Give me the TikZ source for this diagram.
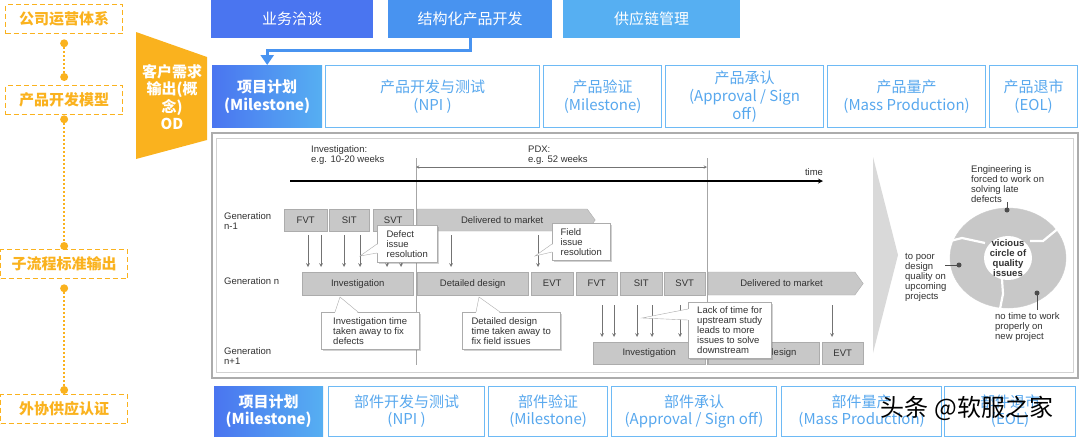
\documentclass[tikz,border=0pt]{standalone}
\usepackage{fontspec}
\newfontfamily\cjk{Noto Sans CJK SC}
\newfontfamily\arial{Liberation Sans}
\usetikzlibrary{arrows}
\usetikzlibrary{arrows.meta}
\usetikzlibrary{shadows}
\usetikzlibrary{shapes.symbols}

\definecolor{odorange}{RGB}{250,178,30}
\definecolor{bizblue}{RGB}{74,117,240}
\definecolor{devblue}{RGB}{72,147,240}
\definecolor{supblue}{RGB}{86,175,242}
\definecolor{stageline}{RGB}{110,186,245}
\definecolor{stagetext}{RGB}{88,168,238}
\definecolor{gfill}{RGB}{200,200,200}
\definecolor{gline}{RGB}{172,172,172}
\definecolor{gtext}{RGB}{50,50,50}
\definecolor{garrow}{RGB}{115,115,115}

\tikzset{
  modelbox/.style={draw=odorange, dash pattern=on 5pt off 3pt, line width=1.3pt,
    text=odorange, font=\cjk\bfseries\fontsize{15}{18}\selectfont,
    minimum width=117, minimum height=29, anchor=north west, inner sep=0pt},
  dotlink/.style={odorange, line width=2pt, dash pattern=on 2pt off 2pt},
  bizbar/.style={text=white, font=\cjk\fontsize{15}{18}\selectfont,
    minimum height=38, anchor=north west, inner sep=0pt},
  planbox/.style={left color=bizblue, right color=supblue, text=white, align=center,
    font=\cjk\bfseries\fontsize{15}{18}\selectfont,
    minimum height=62, anchor=north west, inner sep=0pt},
  stagebox/.style={draw=stageline, line width=1.2pt, fill=white, text=stagetext, align=center,
    font=\cjk\fontsize{15}{18}\selectfont,
    minimum height=62, anchor=north west, inner sep=0pt},
  gbox/.style={fill=gfill, draw=gline, text=gtext, font=\arial\fontsize{9.5}{10}\selectfont,
    minimum height=22, anchor=north west, inner sep=0pt},
  gsignal/.style={gbox, signal, signal to=east, signal pointer angle=108, anchor=west},
  glabel/.style={text=gtext, font=\arial\fontsize{9.5}{10}\selectfont, align=left,
    anchor=west, inner sep=0pt},
  callout/.style={draw=gline, fill=white, text=gtext, font=\arial\fontsize{9.5}{10}\selectfont,
    align=left, anchor=north west, inner sep=0pt,
    drop shadow={opacity=0.35, shadow xshift=1.5pt, shadow yshift=-1.5pt}},
  gdown/.style={->, garrow, line width=0.7pt, shorten >=5pt},
  wmark/.style={font=\cjk\fontsize{24}{24}\selectfont, inner sep=0pt}
}

\begin{document}
\begin{tikzpicture}[x=1pt, y=-1pt, >=stealth]
    \useasboundingbox (0,0) rectangle (1080,437);

    % Left column
    \node[modelbox] (sysA) at (5,4) {公司运营体系};
    \node[modelbox] (sysB) at (5,85) {产品开发模型};
    \node[modelbox, minimum width=127] (sysC) at (0,249) {子流程标准输出};
    \node[modelbox, minimum width=127] (sysD) at (0,394) {外协供应认证};

    \coordinate (dotA) at ([yshift=-9pt]sysA.south);
    \coordinate (dotB) at ([yshift=8pt]sysB.north);
    \coordinate (dotC) at ([yshift=-4pt]sysB.south);
    \coordinate (dotD) at ([yshift=3pt]sysC.north);
    \coordinate (dotE) at ([yshift=-9pt]sysC.south);
    \coordinate (dotF) at ([yshift=4pt]sysD.north);
    \draw[dotlink] (dotA) -- (dotB);
    \draw[dotlink] (dotC) -- (dotD);
    \draw[dotlink] (dotE) -- (dotF);
    \foreach \d in {dotA,dotB,dotC,dotD,dotE,dotF}
        \fill[odorange] (\d) circle [radius=4pt];

    % Customer input
    \fill[odorange] (136,32) -- (207,57) -- (207,140) -- (136,159) -- cycle;
    \node[text=white, align=center, inner sep=0pt,
          font=\cjk\bfseries\fontsize{15}{17.5}\selectfont] (odreq) at (172,97)
          {客户需求\\输出(概\\念)\\OD};

    % Top bar
    \node[bizbar, fill=bizblue, minimum width=162] (bizA) at (211,0) {业务洽谈};
    \node[bizbar, fill=devblue, minimum width=164] (bizB) at (388,0) {结构化产品开发};
    \node[bizbar, fill=supblue, minimum width=177] (bizC) at (563,0) {供应链管理};

    % Product stages
    \node[planbox, minimum width=110] (planA) at (212,65) {项目计划\\(Milestone)};
    \node[stagebox, minimum width=214] (prodA) at (325,65) {产品开发与测试\\(NPI )};
    \node[stagebox, minimum width=118] (prodB) at (543,65) {产品验证\\(Milestone)};
    \node[stagebox, minimum width=158] (prodC) at (665,65) {产品承认\\(Approval / Sign\\off)};
    \node[stagebox, minimum width=158] (prodD) at (827,65) {产品量产\\(Mass Production)};
    \node[stagebox, minimum width=88] (prodE) at (989,65) {产品退市\\(EOL)};

    \draw[devblue, line width=3pt, -{Triangle[width=13pt,length=10pt]}]
        (bizB.south) -- ++(0,12) -| (planA.north);

    % Center panel
    \draw[gline, line width=1.5pt, fill=white] (212,133) rectangle (1078,378);
    \draw[gray!35] (216,138) rectangle (1073,372);

    \node[glabel] (invTxt) at (311,155) {Investigation:\\e.g. 10-20 weeks};
    \node[glabel] (pdxTxt) at (528,155) {PDX:\\e.g. 52 weeks};
    \node[glabel, anchor=center] (timeTxt) at (814,172) {time};

    \coordinate (lineA) at (416,158);
    \coordinate (lineAe) at (416,365);
    \coordinate (lineB) at (707,158);
    \coordinate (lineBe) at (707,365);
    \coordinate (spanL) at (416,167);
    \coordinate (spanR) at (707,167);
    \coordinate (axisL) at (290,181);
    \coordinate (axisR) at (823,181);

    \draw[gray!70, line width=0.6pt] (lineA) -- (lineAe);
    \draw[gray!70, line width=0.6pt] (lineB) -- (lineBe);
    \draw[<->, garrow, line width=0.5pt] (spanL) -- (spanR);
    \draw[->, black, line width=1.2pt] (axisL) -- (axisR);

    % Generation n-1
    \node[glabel] (genA) at (224,221.5) {Generation\\n-1};
    \node[gbox, minimum width=43] (fvtA) at (284,209) {FVT};
    \node[gbox, minimum width=40] (sitA) at (329,209) {SIT};
    \node[gbox, minimum width=40] (svtA) at (373,209) {SVT};
    \node[gsignal, minimum width=178] (mktA) at (417,220) {Delivered to market};

    % Generation n
    \node[glabel] (genB) at (224,281) {Generation n};
    \node[gbox, minimum width=111, minimum height=23] (invB) at (302,272) {Investigation};
    \node[gbox, minimum width=111, minimum height=23] (detB) at (417,272) {Detailed design};
    \node[gbox, minimum width=42, minimum height=23] (evtB) at (531,272) {EVT};
    \node[gbox, minimum width=41, minimum height=23] (fvtB) at (576,272) {FVT};
    \node[gbox, minimum width=42, minimum height=23] (sitB) at (620,272) {SIT};
    \node[gbox, minimum width=41, minimum height=23] (svtB) at (664,272) {SVT};
    \node[gsignal, minimum width=155, minimum height=23] (mktB) at (708,283.5) {Delivered to market};

    % Generation n+1
    \node[glabel] (genC) at (224,356) {Generation\\n+1};
    \node[gbox, minimum width=112] (invC) at (593,342) {Investigation};
    \node[gbox, minimum width=111] (detC) at (708,342) {Detailed design};
    \node[gbox, minimum width=41] (evtC) at (822,342) {EVT};

    \foreach \x in {308,321,344,360,387,401,451,538}
        \draw[gdown] (\x,235) -- (\x,0 |- invB.north);
    \foreach \x in {602,614,637,652,680,832}
        \draw[gdown] (\x,305) -- (\x,0 |- invC.north);

    % Callouts
    \node[callout, minimum width=60, minimum height=37] (defNote) at (377,225) {Defect\\issue\\resolution};
    \fill[white] (378,244) -- (360,256) -- (378,253) -- cycle;
    \draw[gline] (377,244) -- (360,256) -- (377,253);

    \node[callout, minimum width=58, minimum height=37] (fieldNote) at (552,223) {Field\\issue\\resolution};
    \fill[white] (553,244) -- (535,256) -- (553,252) -- cycle;
    \draw[gline] (552,244) -- (535,256) -- (552,252);

    \node[callout, minimum width=98, minimum height=37] (invNote) at (321,312) {Investigation time\\taken away to fix\\defects};
    \fill[white] (335,313) -- (340,297) -- (358,313) -- cycle;
    \draw[gline] (335,312) -- (340,297) -- (358,312);

    \node[callout, minimum width=98, minimum height=37] (detNote) at (462,312) {Detailed design\\time taken away to\\fix field issues};
    \fill[white] (476,313) -- (479,297) -- (500,313) -- cycle;
    \draw[gline] (476,312) -- (479,297) -- (500,312);

    \node[callout, minimum width=83, minimum height=56] (lackNote) at (688,302) {Lack of time for\\upstream study\\leads to more\\issues to solve\\downstream};
    \fill[white] (689,309) -- (642,318) -- (689,320) -- cycle;
    \draw[gline] (688,309) -- (642,318) -- (688,320);

    % Chevron and vicious circle
    \fill[gray!30] (873,157) -- (898,255) -- (873,353) -- cycle;

    \fill[gfill, draw=gray!40] (1008,258) ellipse [x radius=58, y radius=50];
    \fill[white] (1008,258) ellipse [x radius=24, y radius=22];
    \draw[white, line width=2.2pt] (985,243) -- (962,238) -- (950,241);
    \draw[white, line width=2.2pt] (1030,241) -- (1043,241) -- (1060,227);
    \draw[white, line width=2.2pt] (1002,279) -- (1003,294) -- (1000,309);

    \fill[gray!60!black] (1007,210) circle [radius=2.5pt];
    \fill[gray!60!black] (959,265) circle [radius=2.5pt];
    \fill[gray!60!black] (1037,293) circle [radius=2.5pt];
    \draw[gray!60!black, line width=0.6pt] (1007,210) -- (1007,202);
    \draw[gray!60!black, line width=0.6pt] (959,265) -- (945,265);
    \draw[gray!60!black, line width=0.6pt] (1037,293) -- (1037,310);

    \node[glabel] (engTxt) at (971,184) {Engineering is\\forced to work on\\solving late\\defects};
    \node[glabel] (poorTxt) at (905,277) {to poor\\design\\quality on\\upcoming\\projects};
    \node[glabel] (workTxt) at (995,327) {no time to work\\properly on\\new project};
    \node[glabel, anchor=center, align=center, font=\arial\bfseries\fontsize{9.5}{10}\selectfont]
        (viciousTxt) at (1008,258) {vicious\\circle of\\quality\\issues};

    % Part stages
    \node[planbox, minimum width=109, minimum height=50, font=\cjk\bfseries\fontsize{15}{17}\selectfont]
        (partA) at (214,386) {项目计划\\(Milestone)};
    \node[stagebox, minimum width=156, minimum height=50, font=\cjk\fontsize{15}{17}\selectfont]
        (partB) at (328,386) {部件开发与测试\\(NPI )};
    \node[stagebox, minimum width=119, minimum height=50, font=\cjk\fontsize{15}{17}\selectfont]
        (partC) at (488,386) {部件验证\\(Milestone)};
    \node[stagebox, minimum width=165, minimum height=50, font=\cjk\fontsize{15}{17}\selectfont]
        (partD) at (611,386) {部件承认\\(Approval / Sign off)};
    \node[stagebox, minimum width=160, minimum height=50, font=\cjk\fontsize{15}{17}\selectfont]
        (partE) at (781,386) {部件量产\\(Mass Production)};
    \node[stagebox, minimum width=131, minimum height=50, font=\cjk\fontsize{15}{17}\selectfont]
        (partF) at (944,386) {部件退市\\(EOL)};

    % Watermark
    \node[wmark, text=black] (wmTxt) at (967,408) {头条 @软服之家};

\end{tikzpicture}
\end{document}
